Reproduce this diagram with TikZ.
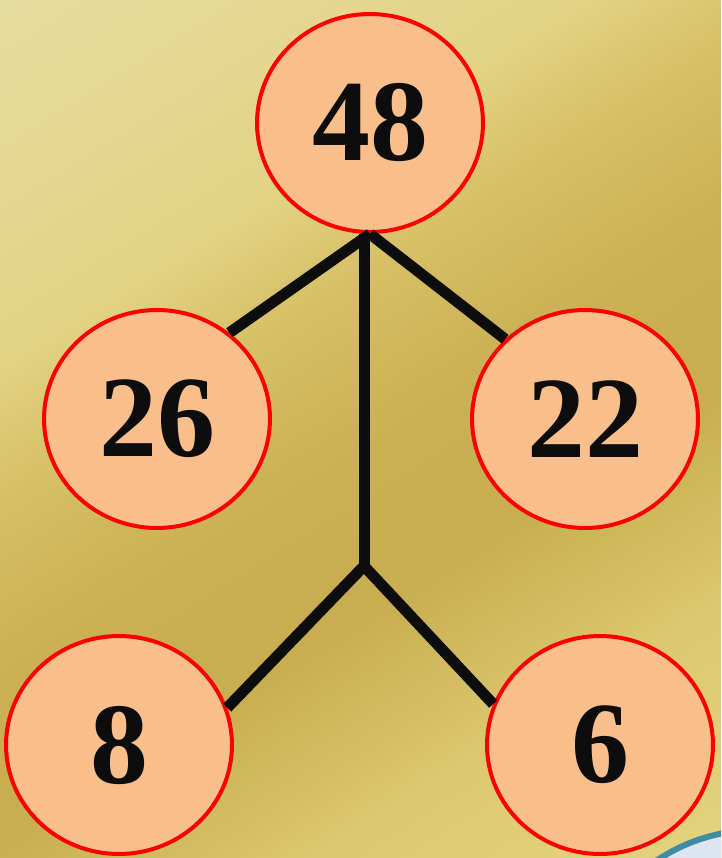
\documentclass[tikz,border=0pt]{standalone}
\usepackage{fontspec}
\setmainfont{Liberation Serif}
\usepackage{xcolor}
\usepackage{tikz}
\usetikzlibrary{shapes.geometric,positioning,calc}
\definecolor{BallFill}{HTML}{F8BE8C}
\definecolor{BallRed}{HTML}{FF0000}
\definecolor{StickBlack}{HTML}{0D0D0D}
\definecolor{BgPale}{HTML}{E8DDA8}
\definecolor{BgCream}{HTML}{E6DBA0}
\definecolor{BgKhaki}{HTML}{E6D68E}
\definecolor{BgSand}{HTML}{E2D282}
\definecolor{BgGold}{HTML}{D6BF66}
\definecolor{BgOchre}{HTML}{CCB256}
\definecolor{BgDeep}{HTML}{C8AE50}
\definecolor{BgWarm}{HTML}{D4BE64}
\definecolor{BgLight}{HTML}{DCC870}
\definecolor{BgEnd}{HTML}{E4D480}
\definecolor{DiscEdge}{HTML}{3F8CA4}
\definecolor{DiscFill}{HTML}{DCE6F0}
\pgfdeclarehorizontalshading{goldbg}{100bp}{%
  color(0bp)=(BgPale); color(15bp)=(BgCream); color(28bp)=(BgKhaki);
  color(35bp)=(BgSand); color(42bp)=(BgGold); color(50bp)=(BgOchre);
  color(56bp)=(BgDeep); color(60bp)=(BgDeep); color(67bp)=(BgWarm);
  color(71bp)=(BgLight); color(85bp)=(BgEnd); color(100bp)=(BgEnd)}

\tikzset{
  numball/.style={
    ellipse, draw=BallRed, line width=0.08cm, fill=BallFill,
    minimum width=4.52cm, minimum height=4.36cm, inner sep=0pt,
    text=StickBlack, font=\fontsize{66}{70}\selectfont\bfseries
  },
  stick/.style={draw=StickBlack, line width=0.22cm}
}

\begin{document}
\begin{tikzpicture}[x=0.02cm, y=0.02cm]
\useasboundingbox (0,0) rectangle (721,-858);
\shade[shading=goldbg, shading angle=-58] (0,0) rectangle (721,-858);
\begin{scope}
  \clip (0,0) rectangle (721,-858);
  \draw[draw=DiscEdge, line width=0.12cm, fill=DiscFill] (757,-1010) circle[radius=180];
\end{scope}

% number bonds
\node[numball] (whole) at (370,-123) {48};
\node[numball] (left) at (157,-419) {26};
\node[numball] (right) at (585,-419) {22};
\node[numball] (lower) at (119,-745) {8};
\node[numball] (rest) at (600,-745) {6};
\coordinate (fork) at (364,-566);

\draw[stick] (whole.south) -- (left.50);
\draw[stick] (whole.south) -- (right.135);
\draw[stick] (whole.south -| fork) -- (fork);
\draw[stick] (fork) -- (lower.19);
\draw[stick] (fork) -- (rest.159);
\end{tikzpicture}
\end{document}
